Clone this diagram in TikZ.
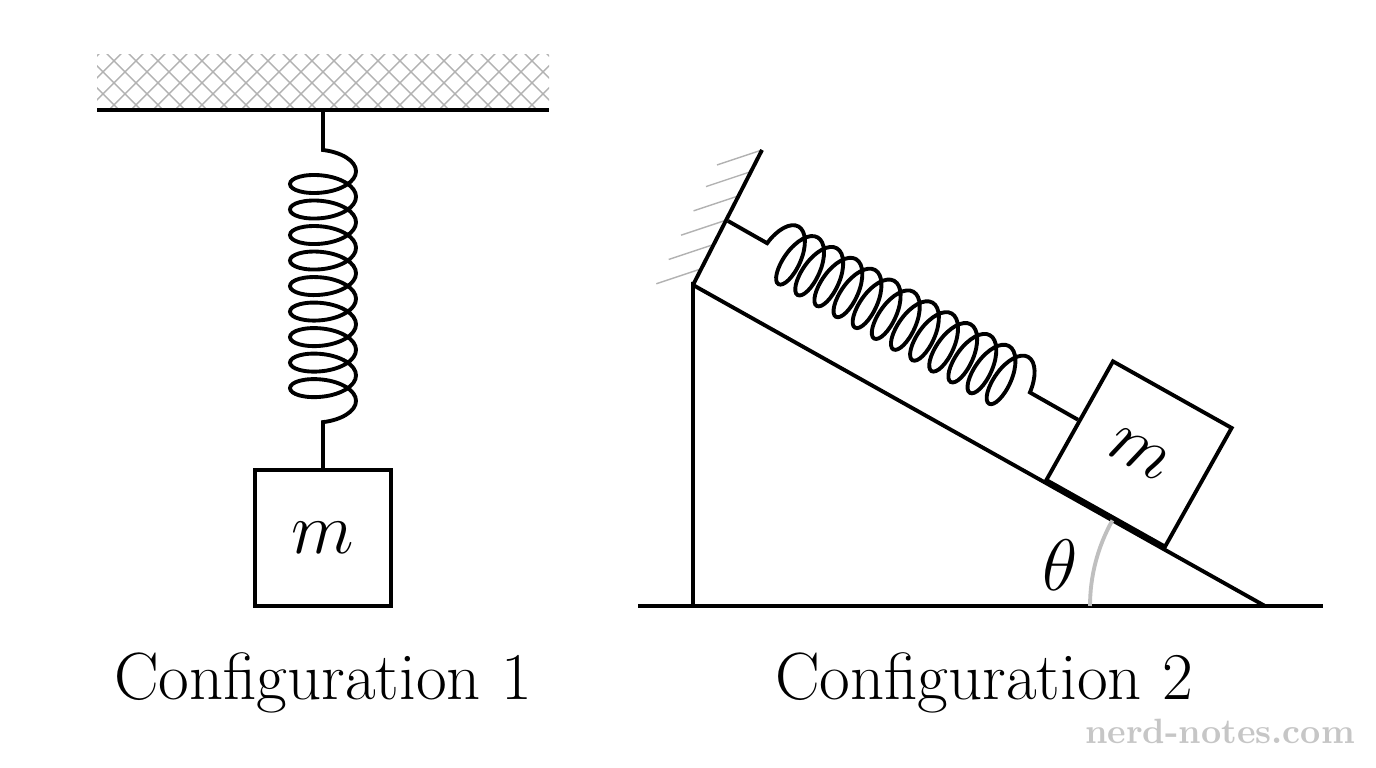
\documentclass[tikz,border=0pt]{standalone}
\usetikzlibrary{decorations.pathmorphing,calc}
\tikzset{
  spring/.style={line width=1.1pt,decorate,decoration={coil,aspect=0.45,amplitude=0.33cm,segment length=0.255cm,pre length=0.4cm,post length=0.38cm}},
  mass/.style={draw,line width=1.1pt,minimum size=1.36cm,inner sep=0pt,font=\fontsize{20}{24}\selectfont},
  caption/.style={font=\fontsize{19}{23}\selectfont},
  hatch/.style={gray!60,thin},
  solid/.style={line width=1.1pt}
}
\begin{document}
\begin{tikzpicture}[x=0.01cm,y=-0.01cm]
\useasboundingbox (0,0) rectangle (1376,768);

% configuration 1
\begin{scope}
\clip (97,55) rectangle (549,110);
\foreach \i in {0,...,30}
  \draw[hatch] (97+\i*22-120,110) -- ++(60,-60) (97+\i*22,110) -- ++(-60,-60);
\end{scope}
\draw[solid] (97,110) coordinate (ceilL) -- (549,110) coordinate (ceilR);
\coordinate (top1) at (323,110);
\node[mass] (m1) at (323,538) {$m$};
\draw[spring] (top1) -- (m1.north);
\node[caption] (cap1) at (323,683) {Configuration 1};

% configuration 2
\coordinate (gL) at (638,606);
\coordinate (gR) at (1323,606);
\coordinate (base) at (693,606);
\coordinate (apex) at (693,285);
\coordinate (foot) at (1265,606);
\coordinate (wallTop) at (762,150);
\foreach \t in {0.12,0.3,0.48,0.66,0.84,1.0}
  \draw[hatch] ($(apex)!\t!(wallTop)$) -- ++(-45,15);
\draw[solid] (gL) -- (gR);
\draw[solid] (base) -- (apex) -- (foot);
\draw[solid] (apex) -- (wallTop);
\node[mass,rotate=-29.3] (m2) at (1139,454) {$m$};
\coordinate (wallFix) at (728,221);
\draw[spring,decoration={amplitude=0.3cm,segment length=0.22cm,pre length=0.45cm,post length=0.45cm}] (wallFix) -- (m2.west);
\draw[gray!50,line width=1.1pt] (foot) ++(180:175) arc (180:209.3:175);
\node[font=\fontsize{20}{24}\selectfont] (theta) at (1060,565) {$\theta$};
\node[caption] (cap2) at (984,683) {Configuration 2};
\node[gray!45,font=\fontsize{10}{12}\selectfont\bfseries] (wm) at (1220,731) {nerd-notes.com};
\end{tikzpicture}
\end{document}
